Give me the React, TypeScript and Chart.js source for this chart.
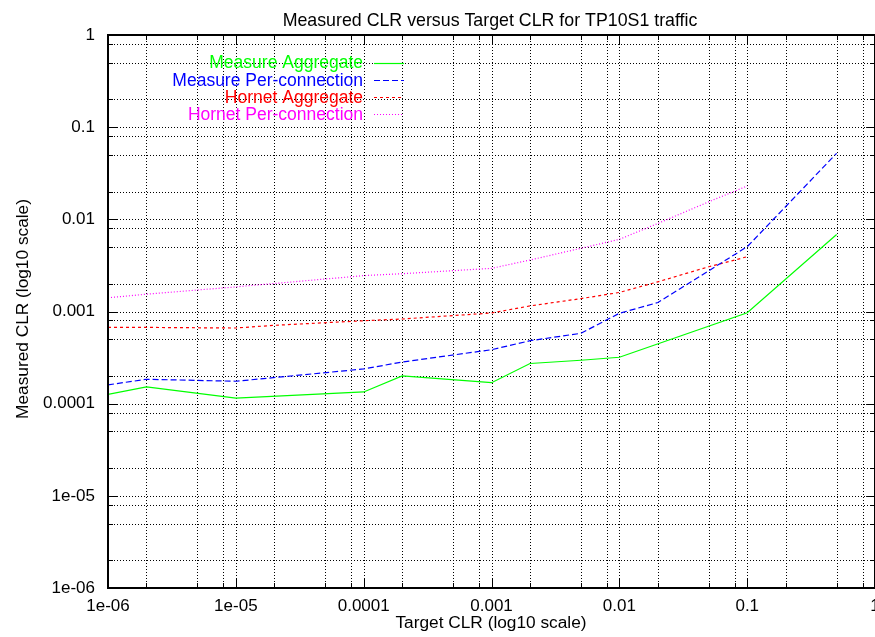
import React, { useEffect, useRef } from "react";
import { Chart, registerables } from "chart.js";

Chart.register(...registerables);

const TITLE = "Measured CLR versus Target CLR for TP10S1 traffic";
const X_TITLE = "Target CLR (log10 scale)";
const Y_TITLE = "Measured CLR (log10 scale)";

const X_TICK_VALUES = [1e-6, 1e-5, 1e-4, 1e-3, 1e-2, 1e-1, 1];
const X_TICK_LABELS = ["1e-06", "1e-05", "0.0001", "0.001", "0.01", "0.1", "1"];
const Y_TICK_VALUES = [1e-6, 1e-5, 1e-4, 1e-3, 1e-2, 1e-1, 1];
const Y_TICK_LABELS = ["1e-06", "1e-05", "0.0001", "0.001", "0.01", "0.1", "1"];
const MINOR_MANTISSAS = [2, 5, 8];

const SERIES_NAMES = [
  "Measure Aggregate",
  "Measure Per-connection",
  "Hornet Aggregate",
  "Hornet Per-connection",
];
const SERIES_COLORS = ["#00ff00", "#0000ff", "#ff0000", "#ff00ff"];
const SERIES_DASHES: number[][] = [[], [6, 3], [3, 3], [1, 2]];

const MEASURE_AGG_X = [1e-6, 2e-6, 1e-5, 1e-4, 2e-4, 1e-3, 2e-3, 5e-3, 1e-2, 0.1, 0.5];
const MEASURE_AGG_Y = [1.26e-4, 1.52e-4, 1.15e-4, 1.34e-4, 2.0e-4, 1.69e-4, 2.73e-4, 2.96e-4, 3.19e-4, 9.7e-4, 6.85e-3];

const MEASURE_PC_X = [1e-6, 2e-6, 1e-5, 1e-4, 2e-4, 1e-3, 2e-3, 5e-3, 1e-2, 2e-2, 0.1, 0.5];
const MEASURE_PC_Y = [1.6e-4, 1.84e-4, 1.75e-4, 2.38e-4, 2.83e-4, 3.85e-4, 4.82e-4, 5.8e-4, 9.57e-4, 1.25e-3, 5.05e-3, 0.052];

const HORNET_AGG_X = [1e-6, 2e-6, 1e-5, 2e-5, 1e-4, 2e-4, 1e-3, 2e-3, 5e-3, 1e-2, 2e-2, 5e-2, 0.1];
const HORNET_AGG_Y = [6.74e-4, 6.72e-4, 6.62e-4, 7.08e-4, 7.94e-4, 8.29e-4, 9.64e-4, 1.15e-3, 1.38e-3, 1.61e-3, 2.1e-3, 3.06e-3, 3.93e-3];

const HORNET_PC_X = [1e-6, 2e-6, 1e-5, 1e-4, 2e-4, 1e-3, 2e-3, 5e-3, 1e-2, 2e-2, 5e-2, 0.1];
const HORNET_PC_Y = [1.41e-3, 1.54e-3, 1.85e-3, 2.45e-3, 2.57e-3, 2.94e-3, 3.62e-3, 4.85e-3, 6.07e-3, 9.02e-3, 0.0155, 0.023];

const SERIES_X = [MEASURE_AGG_X, MEASURE_PC_X, HORNET_AGG_X, HORNET_PC_X];
const SERIES_Y = [MEASURE_AGG_Y, MEASURE_PC_Y, HORNET_AGG_Y, HORNET_PC_Y];

const FONT = "'Liberation Sans', Arial, Helvetica, sans-serif";
const TICK_FONT_SIZE = 17;
const TITLE_FONT_SIZE = 17.8;
const AXIS_TITLE_FONT_SIZE = 17.3;
const LEGEND_FONT_SIZE = 17.5;

const CANVAS_W = 880;
const CANVAS_H = 637;

function labelFor(values: number[], labels: string[], v: number) {
  for (let i = 0; i < values.length; i++) {
    if (Math.abs(Math.log10(values[i]) - Math.log10(v)) < 1e-6) return labels[i];
  }
  return "";
}

function gridValues(majors: number[]) {
  const out: number[] = [];
  for (let i = 0; i < majors.length; i++) {
    out.push(majors[i]);
    if (i < majors.length - 1) {
      for (const m of MINOR_MANTISSAS) out.push(majors[i] * m);
    }
  }
  return out;
}

const framePlugin = {
  id: "gnuplotFrame",
  beforeDatasetsDraw(chart: any) {
    const { ctx, chartArea, scales } = chart;
    const { left, right, top, bottom } = chartArea;
    const xs = scales.x;
    const ys = scales.y;
    const xg = gridValues(X_TICK_VALUES);
    const yg = gridValues(Y_TICK_VALUES);
    ctx.save();
    ctx.strokeStyle = "#000";
    ctx.lineWidth = 1;
    ctx.setLineDash([1, 2]);
    for (const v of xg) {
      const px = Math.round(xs.getPixelForValue(v)) + 0.5;
      if (px <= left + 2 || px >= right - 2) continue;
      ctx.beginPath();
      ctx.moveTo(px, top);
      ctx.lineTo(px, bottom);
      ctx.stroke();
    }
    for (const v of yg) {
      const py = Math.round(ys.getPixelForValue(v)) + 0.5;
      if (py <= top + 2 || py >= bottom - 2) continue;
      ctx.beginPath();
      ctx.moveTo(left, py);
      ctx.lineTo(right, py);
      ctx.stroke();
    }
    ctx.restore();
  },
  afterDatasetsDraw(chart: any) {
    const { ctx, chartArea, scales } = chart;
    const { left, right, top, bottom } = chartArea;
    const xs = scales.x;
    const ys = scales.y;
    const xg = gridValues(X_TICK_VALUES);
    const yg = gridValues(Y_TICK_VALUES);
    ctx.save();
    ctx.strokeStyle = "#000";
    ctx.lineWidth = 1;
    ctx.setLineDash([]);
    for (const v of xg) {
      const len = X_TICK_VALUES.includes(v) ? 9 : 5;
      const px = Math.round(xs.getPixelForValue(v)) + 0.5;
      ctx.beginPath();
      ctx.moveTo(px, bottom);
      ctx.lineTo(px, bottom - len);
      ctx.moveTo(px, top);
      ctx.lineTo(px, top + len);
      ctx.stroke();
    }
    for (const v of yg) {
      const len = Y_TICK_VALUES.includes(v) ? 9 : 5;
      const py = Math.round(ys.getPixelForValue(v)) + 0.5;
      ctx.beginPath();
      ctx.moveTo(left, py);
      ctx.lineTo(left + len, py);
      ctx.moveTo(right, py);
      ctx.lineTo(right - len, py);
      ctx.stroke();
    }
    ctx.lineWidth = 2;
    ctx.strokeRect(Math.round(left), Math.round(top), Math.round(right) - Math.round(left), Math.round(bottom) - Math.round(top));
    ctx.restore();
  },
  afterDraw(chart: any) {
    const { ctx } = chart;
    ctx.save();
    ctx.fillStyle = "#000";
    ctx.textBaseline = "alphabetic";
    ctx.textAlign = "center";
    ctx.font = `${TITLE_FONT_SIZE}px ${FONT}`;
    ctx.fillText(TITLE, 490, 26);
    ctx.font = `${AXIS_TITLE_FONT_SIZE}px ${FONT}`;
    ctx.fillText(X_TITLE, 491, 628);
    ctx.save();
    ctx.translate(28, 309);
    ctx.rotate(-Math.PI / 2);
    ctx.fillText(Y_TITLE, 0, 0);
    ctx.restore();
    // legend
    ctx.font = `${LEGEND_FONT_SIZE}px ${FONT}`;
    ctx.textAlign = "right";
    for (let i = 0; i < SERIES_NAMES.length; i++) {
      const base = 68.3 + i * 17.3;
      ctx.fillStyle = SERIES_COLORS[i];
      ctx.fillText(SERIES_NAMES[i], 363, base);
      ctx.strokeStyle = SERIES_COLORS[i];
      ctx.lineWidth = 1.2;
      ctx.setLineDash(SERIES_DASHES[i]);
      const ly = Math.round(base - 5.8) + 0.5;
      ctx.beginPath();
      ctx.moveTo(374, ly);
      ctx.lineTo(404, ly);
      ctx.stroke();
    }
    ctx.restore();
  },
};

export default function App() {
  const ref = useRef<HTMLCanvasElement | null>(null);

  useEffect(() => {
    if (!ref.current) return;
    const datasets = SERIES_NAMES.map((name, i) => ({
      label: name,
      data: SERIES_X[i].map((x, j) => ({ x, y: SERIES_Y[i][j] })),
      borderColor: SERIES_COLORS[i],
      backgroundColor: SERIES_COLORS[i],
      borderWidth: 1.2,
      borderDash: SERIES_DASHES[i],
      pointRadius: 0,
      tension: 0,
      fill: false,
    }));
    const chart = new Chart(ref.current, {
      type: "line",
      data: { datasets },
      plugins: [framePlugin],
      options: {
        responsive: false,
        animation: false,
        events: [],
        layout: { padding: { top: 35, right: 4.9, left: 0, bottom: 0 } },
        plugins: {
          legend: { display: false },
          title: { display: false },
          tooltip: { enabled: false },
        },
        scales: {
          x: {
            type: "logarithmic",
            position: "bottom",
            min: 1e-6,
            max: 1,
            grid: { display: false, drawTicks: false },
            border: { display: false },
            ticks: {
              autoSkip: false,
              maxRotation: 0,
              minRotation: 0,
              padding: 8,
              color: "#000",
              font: { family: FONT, size: TICK_FONT_SIZE },
              callback: (v: any) => labelFor(X_TICK_VALUES, X_TICK_LABELS, Number(v)),
            },
            afterBuildTicks: (s: any) => {
              s.ticks = X_TICK_VALUES.map((v) => ({ value: v }));
            },
            afterFit: (s: any) => {
              s.height = 49;
              s.paddingLeft = 0;
              s.paddingRight = 0;
            },
          },
          y: {
            type: "logarithmic",
            position: "left",
            min: 1e-6,
            max: 1,
            grid: { display: false, drawTicks: false },
            border: { display: false },
            ticks: {
              autoSkip: false,
              padding: 13,
              color: "#000",
              font: { family: FONT, size: TICK_FONT_SIZE },
              callback: (v: any) => labelFor(Y_TICK_VALUES, Y_TICK_LABELS, Number(v)),
            },
            afterBuildTicks: (s: any) => {
              s.ticks = Y_TICK_VALUES.map((v) => ({ value: v }));
            },
            afterFit: (s: any) => {
              s.width = 108;
              s.paddingTop = 0;
              s.paddingBottom = 0;
            },
          },
        },
      } as any,
    });
    return () => chart.destroy();
  }, []);

  return (
    <div style={{ position: "fixed", left: 0, top: 0, width: 875, height: CANVAS_H, overflow: "hidden", background: "#fff" }}>
      <canvas ref={ref} width={CANVAS_W} height={CANVAS_H} style={{ width: CANVAS_W, height: CANVAS_H, display: "block" }} />
    </div>
  );
}
